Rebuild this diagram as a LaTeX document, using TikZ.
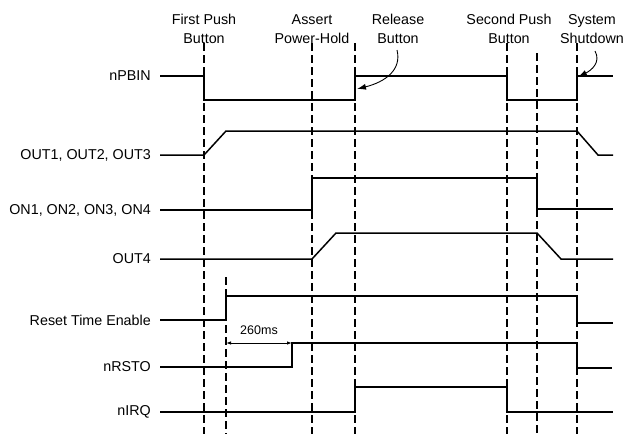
\documentclass[tikz,border=0pt]{standalone}
\usepackage{fontspec}
\setmainfont{Liberation Sans}
\usetikzlibrary{arrows.meta}
\begin{document}
\begin{tikzpicture}[x=1pt,y=-1pt,
  sig/.style={line width=1.5pt},
  guide/.style={line width=2pt,dash pattern=on 8pt off 4pt},
  lbl/.style={anchor=east,inner sep=0pt,font=\fontsize{14.3}{15}\selectfont},
  event/.style={align=center,inner sep=0pt,font=\fontsize{14.3}{19}\selectfont}]
\useasboundingbox (0,0) rectangle (627,434);
% event markers
\foreach \x in {204,312,355,507,577} \draw[guide] (\x,43) -- (\x,434);
\draw[guide] (537,53) -- (537,434);
\draw[guide] (226,277) -- (226,434);
% event labels
\node[event] (push1) at (204,29) {First Push\\Button};
\node[event] (hold) at (312,29) {Assert\\Power-Hold};
\node[event] (rel) at (398,29) {Release\\Button};
\node[event] (push2) at (509,29) {Second Push\\Button};
\node[event] (shut) at (592,29) {System\\Shutdown};
% signal names
\foreach \y/\t in {76/nPBIN,155/{OUT1, OUT2, OUT3},210/{ON1, ON2, ON3, ON4},259/OUT4,320/Reset Time Enable,367/nRSTO,412/nIRQ}
  \node[lbl] at (151,\y) {\t};
% waveforms
\draw[sig] (160,76) -- (204,76) -- (204,100) -- (355,100) -- (355,76) -- (507,76) -- (507,100) -- (577,100) -- (577,76) -- (613,76);
\draw[sig] (160,155) -- (204,155) -- (226,131) -- (577,131) -- (598,155) -- (613,155);
\draw[sig] (160,210) -- (312,210) -- (312,178) -- (537,178) -- (537,209) -- (613,209);
\draw[sig] (160,259) -- (312,259) -- (336,233) -- (537,233) -- (561,259) -- (613,259);
\draw[sig] (160,320) -- (226,320) -- (226,296) -- (577,296) -- (577,323) -- (613,323);
\draw[sig] (160,367) -- (292,367) -- (292,343) -- (577,343) -- (577,368) -- (612,368);
\draw[sig] (160,412) -- (355,412) -- (355,387) -- (507,387) -- (507,412) -- (613,412);
% 260ms delay
\coordinate (rs) at (226,343);
\coordinate (rd) at (292,343);
\draw[line width=0.9pt,{Latex[length=5pt,width=3.5pt]}-{Latex[length=5pt,width=3.5pt]}] (rs) -- node[above=5pt,font=\fontsize{12.5}{13}\selectfont] {260ms} (rd);
% callouts
\coordinate (relpt) at (357,89);
\coordinate (shutpt) at (578,77);
\draw[line width=0.9pt,-{Latex[length=9pt,width=6pt]}] (397,50) .. controls (402,70) and (385,82) .. (relpt);
\draw[line width=0.9pt,-{Latex[length=9pt,width=6pt]}] (595,51) .. controls (601,62) and (592,70) .. (shutpt);
\end{tikzpicture}
\end{document}
